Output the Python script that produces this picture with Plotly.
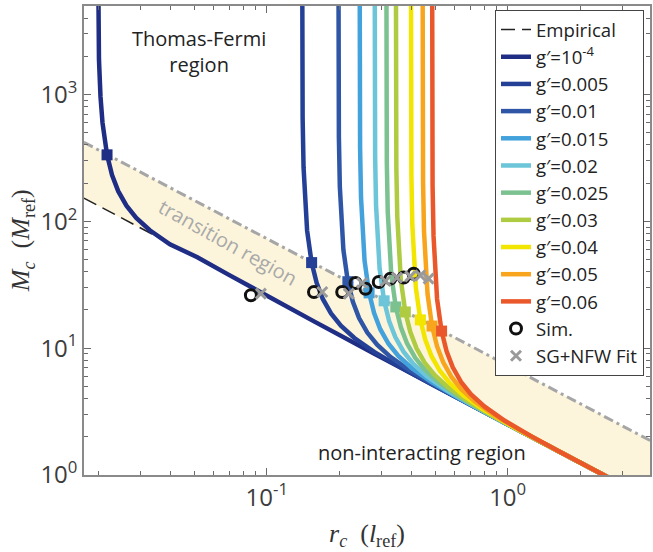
import plotly.graph_objects as go

# ---------------- data ----------------
g_labels = ["g′=10<sup>-4</sup>", "g′=0.005", "g′=0.01", "g′=0.015", "g′=0.02",
            "g′=0.025", "g′=0.03", "g′=0.04", "g′=0.05", "g′=0.06"]
g_colors = ["#1f2d84", "#243f96", "#2f56a6", "#43a1dc", "#6cc5d9",
            "#7cc291", "#aecb42", "#f2e500", "#f8a51d", "#e9572a"]

r_g1 = [0.0198, 0.01984, 0.01992, 0.0201, 0.02039, 0.02079, 0.02171, 0.02277, 0.02416, 0.02614,
        0.02871, 0.03267, 0.0396, 0.05148, 0.0693, 0.099, 0.1584, 0.2772, 0.594, 1.584, 2.97]
M_g1 = [50000, 13775, 4624, 1879, 964.2, 598.2, 334.0, 231.5, 172.7, 132.6,
        106.3, 85.0, 65.84, 52.1, 38.0, 26.0, 16.1, 9.1, 4.22, 1.578, 0.8417]
r_g2 = [0.14, 0.14028, 0.14084, 0.1421, 0.1442, 0.147, 0.15348, 0.161, 0.1708, 0.1848,
        0.203, 0.231, 0.28, 0.364, 0.49, 0.70, 1.12, 1.96, 4.2]
M_g2 = [50000, 1948.2, 653.9, 265.8, 136.4, 84.6, 47.23, 32.74, 24.42, 18.76,
        15.04, 12.02, 9.312, 6.954, 5.118, 3.574, 2.232, 1.2755, 0.5952]
r_g3 = [0.198, 0.1984, 0.19919, 0.20097, 0.20394, 0.2079, 0.21707, 0.2277, 0.24156, 0.26136,
        0.2871, 0.3267, 0.396, 0.5148, 0.693, 0.99, 1.584, 2.772, 5.94]
M_g3 = [50000, 1377.5, 462.4, 187.9, 96.43, 59.82, 33.40, 23.15, 17.27, 13.26,
        10.63, 8.502, 6.584, 4.917, 3.619, 2.527, 1.578, 0.9019, 0.4209]
r_g4 = [0.2425, 0.24299, 0.24396, 0.24614, 0.24978, 0.25463, 0.26585, 0.27888, 0.29585, 0.3201,
        0.35163, 0.40013, 0.485, 0.6305, 0.84875, 1.2125, 1.94, 3.395]
M_g4 = [50000, 1124.7, 377.5, 153.4, 78.73, 48.84, 27.27, 18.90, 14.10, 10.83,
        8.681, 6.941, 5.376, 4.015, 2.955, 2.063, 1.2887, 0.7364]
r_g5 = [0.28, 0.28056, 0.28168, 0.2842, 0.2884, 0.294, 0.30696, 0.322, 0.3416, 0.3696,
        0.406, 0.462, 0.56, 0.728, 0.98, 1.40, 2.24, 3.92]
M_g5 = [50000, 974.0, 326.9, 132.9, 68.18, 42.30, 23.61, 16.37, 12.21, 9.379,
        7.518, 6.011, 4.656, 3.477, 2.559, 1.7867, 1.1161, 0.6377]
r_g6 = [0.31307, 0.3137, 0.31495, 0.31777, 0.32246, 0.32872, 0.34322, 0.36003, 0.38195, 0.41325,
        0.45395, 0.51657, 0.62614, 0.81398, 1.09575, 1.56535, 2.50456, 4.383]
M_g6 = [50000, 871.2, 292.4, 118.85, 60.98, 37.83, 21.12, 14.641, 10.92, 8.388,
        6.724, 5.377, 4.164, 3.11, 2.2887, 1.598, 0.9982, 0.5704]
r_g7 = [0.34295, 0.34364, 0.34501, 0.34809, 0.35324, 0.3601, 0.37598, 0.39439, 0.4184, 0.45269,
        0.49728, 0.56587, 0.6859, 0.89167, 1.20033, 1.71475, 2.7436]
M_g7 = [50000, 795.3, 266.95, 108.5, 55.67, 34.54, 19.28, 13.366, 9.969, 7.658,
        6.139, 4.908, 3.8016, 2.8388, 2.0894, 1.4588, 0.9113]
r_g8 = [0.396, 0.39679, 0.39838, 0.40194, 0.40788, 0.4158, 0.43413, 0.4554, 0.48312, 0.52272,
        0.5742, 0.6534, 0.792, 1.0296, 1.386, 1.98, 3.168]
M_g8 = [50000, 688.8, 231.2, 93.96, 48.21, 29.91, 16.70, 11.576, 8.634, 6.632,
        5.316, 4.251, 3.292, 2.4585, 1.8095, 1.2634, 0.7892]
r_g9 = [0.44274, 0.44363, 0.4454, 0.44938, 0.45602, 0.46488, 0.48538, 0.50915, 0.54014, 0.58442,
        0.64197, 0.73052, 0.88548, 1.15112, 1.54959, 2.2137, 3.54192]
M_g9 = [50000, 616.1, 206.78, 84.05, 43.12, 26.75, 14.935, 10.354, 7.722, 5.932,
        4.755, 3.802, 2.9448, 2.1989, 1.6185, 1.13, 0.7059]
r_g10 = [0.485, 0.48597, 0.48791, 0.49228, 0.49955, 0.50925, 0.5317, 0.55775, 0.5917, 0.6402,
         0.70325, 0.80025, 0.97, 1.261, 1.6975, 2.425, 3.88]
M_g10 = [50000, 562.4, 188.76, 76.72, 39.37, 24.42, 13.634, 9.452, 7.049, 5.415,
         4.341, 3.471, 2.688, 2.0073, 1.4774, 1.0315, 0.6444]

# squares where each curve crosses the upper edge of the transition band
sq_r = [0.02171, 0.15348, 0.21707, 0.26585, 0.30696, 0.34322, 0.37598, 0.43413, 0.48538, 0.5317]
sq_M = [334.0, 47.23, 33.40, 27.27, 23.61, 21.12, 19.28, 16.70, 14.935, 13.634]

# transition band edges
band_r = [0.0174, 3.95]
band_upper = [419.5, 1.848]
band_lower = [151.1, 0.666]

# empirical relation
emp_r = [0.0174, 0.062]
emp_M = [152.3, 42.7]

# simulations and fits
sim_r = [0.0859, 0.157, 0.2056, 0.2336, 0.257, 0.2916, 0.326, 0.370, 0.407]
sim_M = [26.1, 27.7, 27.7, 32.6, 29.4, 33.2, 35.3, 36.0, 38.6]
fit_r = [0.0945, 0.170, 0.219, 0.2487, 0.311, 0.347, 0.394, 0.434, 0.4696]
fit_M = [26.9, 27.7, 26.9, 32.6, 33.8, 36.0, 36.8, 37.5, 35.3]

x_major = [0.1, 1]
x_major_text = ["10<sup>-1</sup>", "10<sup>0</sup>"]
x_minor = [0.02, 0.03, 0.04, 0.05, 0.06, 0.07, 0.08, 0.09,
           0.2, 0.3, 0.4, 0.5, 0.6, 0.7, 0.8, 0.9, 2, 3]
y_major = [1, 10, 100, 1000]
y_major_text = ["10<sup>0</sup>", "10<sup>1</sup>", "10<sup>2</sup>", "10<sup>3</sup>"]
y_minor = [2, 3, 4, 5, 6, 7, 8, 9, 20, 30, 40, 50, 60, 70, 80, 90,
           200, 300, 400, 500, 600, 700, 800, 900, 2000, 3000, 4000]

curves_r = [r_g1, r_g2, r_g3, r_g4, r_g5, r_g6, r_g7, r_g8, r_g9, r_g10]
curves_M = [M_g1, M_g2, M_g3, M_g4, M_g5, M_g6, M_g7, M_g8, M_g9, M_g10]

# ---------------- figure ----------------
SANS = "Open Sans"
SERIF = "Liberation Serif"
fig = go.Figure()

fig.add_trace(go.Scatter(
    x=band_r + band_r[::-1], y=band_upper + band_lower[::-1],
    fill="toself", fillcolor="#FCF5DC", mode="lines", line=dict(width=0),
    showlegend=False, hoverinfo="skip"))

fig.add_trace(go.Scatter(
    x=emp_r, y=emp_M, mode="lines", name="Empirical",
    line=dict(color="#222222", width=1.5, dash="14px,7px")))

fig.add_trace(go.Scatter(
    x=band_r, y=band_upper, mode="lines", showlegend=False,
    line=dict(color="#a6a6a6", width=3, dash="10px,4px,3px,4px")))

for rr, mm, lab, col in zip(curves_r, curves_M, g_labels, g_colors):
    fig.add_trace(go.Scatter(x=rr, y=mm, mode="lines", name=lab,
                             line=dict(color=col, width=4.5)))

fig.add_trace(go.Scatter(
    x=sq_r, y=sq_M, mode="markers", showlegend=False,
    marker=dict(symbol="square", size=11, color=g_colors, line=dict(width=0))))

fig.add_trace(go.Scatter(
    x=sim_r, y=sim_M, mode="markers", name="Sim.",
    marker=dict(symbol="circle-open", size=11, color="#111111", line=dict(width=3, color="#111111"))))

fig.add_trace(go.Scatter(
    x=fit_r, y=fit_M, mode="markers", name="SG+NFW Fit",
    marker=dict(symbol="x-thin", size=10, color="#9a9a9a", line=dict(width=3, color="#9a9a9a"))))

axis_common = dict(
    type="log", showgrid=False, zeroline=False, showline=True, linecolor="#8a8a8a",
    linewidth=1.5, mirror="ticks", ticks="inside", ticklen=7, tickwidth=1,
    tickcolor="#6a6a6a", tickfont=dict(family=SANS, size=24, color="#3c3c3c"),
)

fig.update_xaxes(range=[-1.759, 0.591], tickmode="array", tickvals=x_major, ticktext=x_major_text,
                 minor=dict(tickmode="array", tickvals=x_minor, ticks="inside", ticklen=4,
                            tickcolor="#6a6a6a", tickwidth=1, showgrid=False),
                 **axis_common)
fig.update_yaxes(range=[0, 3.697], tickmode="array", tickvals=y_major, ticktext=y_major_text,
                 minor=dict(tickmode="array", tickvals=y_minor, ticks="inside", ticklen=4,
                            tickcolor="#6a6a6a", tickwidth=1, showgrid=False),
                 **axis_common)

annotations = [
    dict(text="Thomas-Fermi<br>region", x=0.2025, y=0.902, font=dict(family=SANS, size=20, color="#222222")),
    dict(text="transition region", x=0.2553, y=0.4968, textangle=29,
         font=dict(family=SANS, size=20, color="#a9a9a9")),
    dict(text="non-interacting region", x=0.5968, y=0.049, font=dict(family=SANS, size=20, color="#222222")),
    dict(text="<i>M</i><sub><i>c</i></sub>&nbsp;&nbsp;(<i>M</i><sub>ref</sub>)", x=-0.1092, y=0.4989,
         textangle=-90, font=dict(family=SERIF, size=26, color="#333333")),
    dict(text="<i>r</i><sub><i>c</i></sub>&nbsp;&nbsp;(<i>l</i><sub>ref</sub>)", x=0.5, y=-0.1279,
         font=dict(family=SERIF, size=26, color="#333333")),
]
for a in annotations:
    a.update(xref="paper", yref="paper", showarrow=False, xanchor="center", yanchor="middle")

fig.update_layout(
    width=653, height=552,
    margin=dict(l=84, r=1, t=6, b=77),
    paper_bgcolor="white", plot_bgcolor="white",
    annotations=annotations,
    showlegend=True,
    legend=dict(x=0.9894, y=0.9915, xanchor="right", yanchor="top",
                bgcolor="white", bordercolor="#444444", borderwidth=1,
                font=dict(family=SANS, size=18.6, color="#222222"),
                tracegroupgap=0),
)

fig.write_html("out.html", config={"displayModeBar": False})
